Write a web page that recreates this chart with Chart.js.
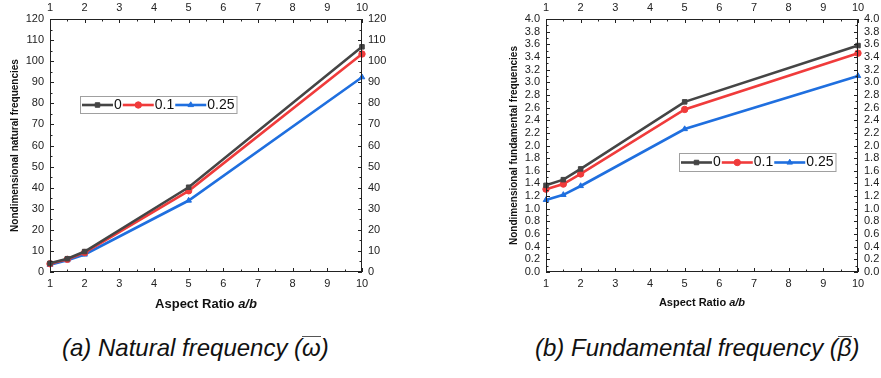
<!DOCTYPE html>
<html>
<head>
<meta charset="utf-8">
<script src="https://cdn.jsdelivr.net/npm/chart.js@4.4.1/dist/chart.umd.min.js"></script>
<style>
  body { margin: 0; background: #fff; width: 881px; height: 378px; position: relative; overflow: hidden; }
  canvas { position: absolute; top: 0; }
  #natural { left: 0; }
  #fundamental { left: 440px; }
  .caption { position: absolute; top: 334px; font-family: "Liberation Sans", Arial, sans-serif; font-style: italic; font-size: 24px; color: #111; white-space: nowrap; }
  .bar { display: inline-block; border-top: 1px solid #555; line-height: 0.8; padding-top: 1px; }
</style>
</head>
<body>
<canvas id="natural" width="440" height="320"></canvas>
<canvas id="fundamental" width="441" height="320"></canvas>
<div class="caption" style="left:62px">(a) Natural frequency (<span class="bar">&omega;</span>)</div>
<div class="caption" style="left:535px">(b) Fundamental frequency (<span class="bar">&beta;</span>)</div>
<script>
// aspect ratios a/b
var aspectRatios = [1, 1.5, 2, 5, 10];
var seriesNames = ['0', '0.1', '0.25'];
var seriesColors = ['#454545', '#f03b3b', '#1f6fdf'];
var seriesMarkers = ['rect', 'circle', 'triangle'];

// (a) nondimensional natural frequencies
var natural0 = [4.1, 6.3, 9.7, 40.2, 106.8];
var natural01 = [3.9, 6.0, 9.2, 38.5, 103.4];
var natural025 = [3.4, 5.6, 8.3, 33.9, 92.4];

// (b) nondimensional fundamental frequencies
var fund0 = [1.37, 1.46, 1.63, 2.69, 3.58];
var fund01 = [1.31, 1.39, 1.55, 2.57, 3.46];
var fund025 = [1.14, 1.22, 1.36, 2.26, 3.10];

var tickFont = { family: '"Liberation Sans", Arial, sans-serif', size: 11 };
var tickColor = '#222';

function points(ys) {
    return aspectRatios.map(function (x, i) { return { x: x, y: ys[i] }; });
}

function makeDatasets(lists) {
    return lists.map(function (ys, i) {
        return {
            label: seriesNames[i],
            data: points(ys),
            borderColor: seriesColors[i],
            backgroundColor: seriesColors[i],
            borderWidth: 2.6,
            pointStyle: seriesMarkers[i],
            pointRadius: 3.2,
            pointBorderWidth: 1,
            clip: false
        };
    });
}

// draws the frame, inward ticks, axis titles and the boxed legend
var framePlugin = {
    id: 'frame',
    afterDraw: function (chart, args, opts) {
        var ctx = chart.ctx;
        var a = chart.chartArea;
        var xs = chart.scales.x, ys = chart.scales.y;
        ctx.save();
        ctx.strokeStyle = '#222';
        ctx.lineWidth = 1;
        ctx.strokeRect(a.left + 0.5, a.top + 0.5, a.right - a.left - 1, a.bottom - a.top - 1);

        ctx.beginPath();
        for (var v = xs.min; v <= xs.max + 1e-9; v += 0.5) {
            var px = Math.round(xs.getPixelForValue(v)) + 0.5;
            var len = (Math.abs(v - Math.round(v)) < 1e-9) ? 4 : 2.5;
            ctx.moveTo(px, a.bottom); ctx.lineTo(px, a.bottom - len);
            ctx.moveTo(px, a.top); ctx.lineTo(px, a.top + len);
        }
        var step = opts.yStep / 2;
        var n = Math.round((ys.max - ys.min) / step);
        for (var k = 0; k <= n; k++) {
            var py = Math.round(ys.getPixelForValue(ys.min + k * step)) + 0.5;
            var l = (k % 2 === 0) ? 4 : 2.5;
            ctx.moveTo(a.left, py); ctx.lineTo(a.left + l, py);
            ctx.moveTo(a.right, py); ctx.lineTo(a.right - l, py);
        }
        ctx.stroke();

        // x title with italic a/b
        ctx.fillStyle = '#111';
        ctx.textBaseline = 'middle';
        var f1 = 'bold ' + opts.xTitleSize + 'px "Liberation Sans", Arial, sans-serif';
        var f2 = 'italic bold ' + opts.xTitleSize + 'px "Liberation Sans", Arial, sans-serif';
        ctx.font = f1;
        var w1 = ctx.measureText('Aspect Ratio ').width;
        ctx.font = f2;
        var w2 = ctx.measureText('a/b').width;
        var cx = (a.left + a.right) / 2 - (w1 + w2) / 2;
        ctx.textAlign = 'left';
        ctx.font = f1;
        ctx.fillText('Aspect Ratio ', cx, opts.xTitleY);
        ctx.font = f2;
        ctx.fillText('a/b', cx + w1, opts.xTitleY);

        // y title
        ctx.save();
        ctx.translate(a.left - opts.yTitleOffset, (a.top + a.bottom) / 2);
        ctx.rotate(-Math.PI / 2);
        ctx.textAlign = 'center';
        ctx.font = 'bold ' + opts.yTitleSize + 'px "Liberation Sans", Arial, sans-serif';
        ctx.fillText(opts.yTitle, 0, 0);
        ctx.restore();

        // legend
        var lg = opts.legend;
        ctx.font = '14px "Liberation Sans", Arial, sans-serif';
        var x = lg.x + 2;
        var items = chart.data.datasets.map(function (ds) {
            var w = ctx.measureText(ds.label).width;
            return { ds: ds, w: w };
        });
        var total = items.reduce(function (s, it) { return s + 33 + it.w; }, 0);
        ctx.fillStyle = '#fff';
        ctx.fillRect(lg.x, lg.y, total + 4, lg.h);
        ctx.strokeStyle = '#a0a0a0';
        ctx.strokeRect(lg.x + 0.5, lg.y + 0.5, total + 3, lg.h);
        var cy = lg.y + lg.h / 2 + 0.5;
        items.forEach(function (it) {
            var ds = it.ds;
            ctx.strokeStyle = ds.borderColor;
            ctx.lineWidth = 2.6;
            ctx.beginPath();
            ctx.moveTo(x, cy); ctx.lineTo(x + 31, cy);
            ctx.stroke();
            ctx.fillStyle = ds.backgroundColor;
            ctx.lineWidth = 1;
            Chart.helpers.drawPoint(ctx, { pointStyle: ds.pointStyle, radius: 3.2, borderWidth: 1 }, x + 15.5, cy);
            ctx.fillStyle = '#111';
            ctx.textAlign = 'left';
            ctx.fillText(ds.label, x + 32, cy);
            x += 33 + it.w;
        });
        ctx.restore();
    }
};

function axis(pos, min, max, step, size, pad) {
    return {
        type: 'linear',
        position: pos,
        min: min,
        max: max,
        grid: { display: false, drawTicks: false },
        border: { display: false },
        ticks: {
            stepSize: step,
            padding: pad,
            font: tickFont,
            color: tickColor,
            maxRotation: 0,
            autoSkip: false,
            callback: function (v) { return step < 1 ? v.toFixed(1) : v; }
        },
        afterFit: function (s) {
            if (s.isHorizontal()) { s.height = size; } else { s.width = size; }
        }
    };
}

function buildChart(id, lists, yMax, yStep, sizes, extra) {
    var ctx = document.getElementById(id).getContext('2d');
    return new Chart(ctx, {
        type: 'line',
        data: { datasets: makeDatasets(lists) },
        options: {
            responsive: false,
            animation: false,
            layout: { padding: 0 },
            scales: {
                x: axis('bottom', 1, 10, 1, sizes.bottom, 5),
                x2: axis('top', 1, 10, 1, sizes.top, 4),
                y: axis('left', 0, yMax, yStep, sizes.left, 6),
                y2: axis('right', 0, yMax, yStep, sizes.right, 6)
            },
            plugins: {
                legend: { display: false },
                tooltip: { enabled: false },
                frame: extra
            }
        },
        plugins: [framePlugin]
    });
}

buildChart('natural', [natural0, natural01, natural025], 120, 10,
    { left: 50, right: 78, top: 19, bottom: 48 },
    { yStep: 10, yTitle: 'Nondimensional natural frequencies', yTitleSize: 10, yTitleOffset: 35,
      xTitleSize: 13, xTitleY: 304, legend: { x: 80, y: 96, h: 17 } });

buildChart('fundamental', [fund0, fund01, fund025], 4, 0.2,
    { left: 106, right: 23, top: 19, bottom: 48 },
    { yStep: 0.2, yTitle: 'Nondimensional fundamental frequencies', yTitleSize: 10, yTitleOffset: 32,
      xTitleSize: 11, xTitleY: 303, legend: { x: 239, y: 153, h: 18 } });
</script>
</body>
</html>
